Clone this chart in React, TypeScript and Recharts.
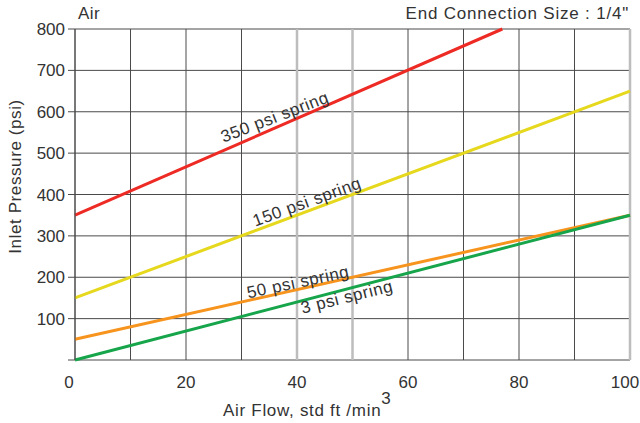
import { CartesianGrid, Label, Line, LineChart, ReferenceDot, ReferenceLine, XAxis, YAxis } from "recharts";

const X_TICKS = [0, 10, 20, 30, 40, 50, 60, 70, 80, 90, 100];
const Y_TICKS = [0, 100, 200, 300, 400, 500, 600, 700, 800];
const HIGHLIGHT_X = [40, 50, 100];

const FLOW = [0, 100];
const SPRING_350 = [
  { flow: 0, psi: 350 },
  { flow: 77, psi: 800 },
];
const SPRING_150 = [150, 650];
const SPRING_50 = [50, 350];
const SPRING_3 = [0, 350];

const toRows = (vals: number[]) => FLOW.map((f, i) => ({ flow: f, psi: vals[i] }));

const SERIES = [
  { name: "350 psi spring", data: SPRING_350, color: "#ee2a24" },
  { name: "150 psi spring", data: toRows(SPRING_150), color: "#e6d81c" },
  { name: "50 psi spring", data: toRows(SPRING_50), color: "#f7941e" },
  { name: "3 psi spring", data: toRows(SPRING_3), color: "#16a54a" },
];

// where the curve names sit, with their angle
const TAGS = [
  { text: "350 psi spring", flow: 36, psi: 587, angle: -21 },
  { text: "150 psi spring", flow: 41.8, psi: 382, angle: -20 },
  { text: "50 psi spring", flow: 40.2, psi: 188, angle: -12 },
  { text: "3 psi spring", flow: 49, psi: 152, angle: -14 },
];

const FONT = "Liberation Sans, Arial, sans-serif";
const INK = "#333";

const XTick = ({ x, y, payload }: any) => {
  const v = payload.value;
  if (v % 20 !== 0) return null;
  const dx = v === 0 ? -6 : v === 100 ? -5 : 0;
  return (
    <text x={x + dx} y={y + 20} textAnchor="middle" fill={INK} fontSize={17} fontFamily={FONT}>
      {v}
    </text>
  );
};

export default function App() {
  return (
    <div style={{ position: "relative", width: 640, height: 423, fontFamily: FONT }}>
      <style>{"body{margin:0}"}</style>
      <div style={{ position: "absolute", left: 78, top: 4, fontSize: 17, color: INK, letterSpacing: 0.5 }}>Air</div>
      <div style={{ position: "absolute", right: 11, top: 4, fontSize: 17, color: INK, letterSpacing: 0.8 }}>
        End Connection Size : 1/4"
      </div>
      <LineChart width={640} height={423} margin={{ top: 29, right: 10, left: 10, bottom: 0 }}>
        <CartesianGrid stroke="#4a4a4a" strokeWidth={1} />
        <XAxis
          type="number"
          dataKey="flow"
          domain={[0, 100]}
          ticks={X_TICKS}
          interval={0}
          tick={<XTick />}
          tickLine={false}
          axisLine={false}
          height={63}
        >
          <Label
            position="insideBottom"
            content={({ viewBox }: any) => (
              <text x={223} y={viewBox.y + 56} fill={INK} fontSize={17} fontFamily={FONT} letterSpacing={0.7}>
                Air Flow, std ft /min
                <tspan dy={-12} fontSize={17}>3</tspan>
              </text>
            )}
          />
        </XAxis>
        <YAxis
          type="number"
          domain={[0, 800]}
          ticks={Y_TICKS}
          interval={0}
          tickFormatter={(v) => (v === 0 ? "" : String(v))}
          tickLine={{ stroke: "#4a4a4a" }}
          tickSize={7}
          tickMargin={3}
          axisLine={{ stroke: "#4a4a4a" }}
          tick={{ fill: INK, fontSize: 17, fontFamily: FONT }}
          width={65}
        >
          <Label
            content={({ viewBox }: any) => {
              const cx = 15;
              const cy = viewBox.y + viewBox.height / 2 - 18;
              return (
                <text
                  x={cx}
                  y={cy}
                  transform={`rotate(-90 ${cx} ${cy})`}
                  textAnchor="middle"
                  dominantBaseline="central"
                  fill={INK}
                  fontSize={17}
                  fontFamily={FONT}
                  letterSpacing={0.6}
                >
                  Inlet Pressure (psi)
                </text>
              );
            }}
          />
        </YAxis>
        {HIGHLIGHT_X.map((x) => (
          <ReferenceLine key={x} x={x} stroke="#bdbdbd" strokeWidth={2.5} />
        ))}
        {SERIES.map((s) => (
          <Line
            key={s.name}
            data={s.data}
            dataKey="psi"
            type="linear"
            stroke={s.color}
            strokeWidth={3}
            dot={false}
            isAnimationActive={false}
          />
        ))}
        {TAGS.map((t) => (
          <ReferenceDot
            key={t.text}
            x={t.flow}
            y={t.psi}
            r={0}
            shape={(p: any) => (
              <text
                x={p.cx}
                y={p.cy}
                transform={`rotate(${t.angle} ${p.cx} ${p.cy})`}
                textAnchor="middle"
                dominantBaseline="central"
                fill={INK}
                fontSize={17}
                fontFamily={FONT}
                letterSpacing={0.6}
              >
                {t.text}
              </text>
            )}
          />
        ))}
      </LineChart>
    </div>
  );
}
